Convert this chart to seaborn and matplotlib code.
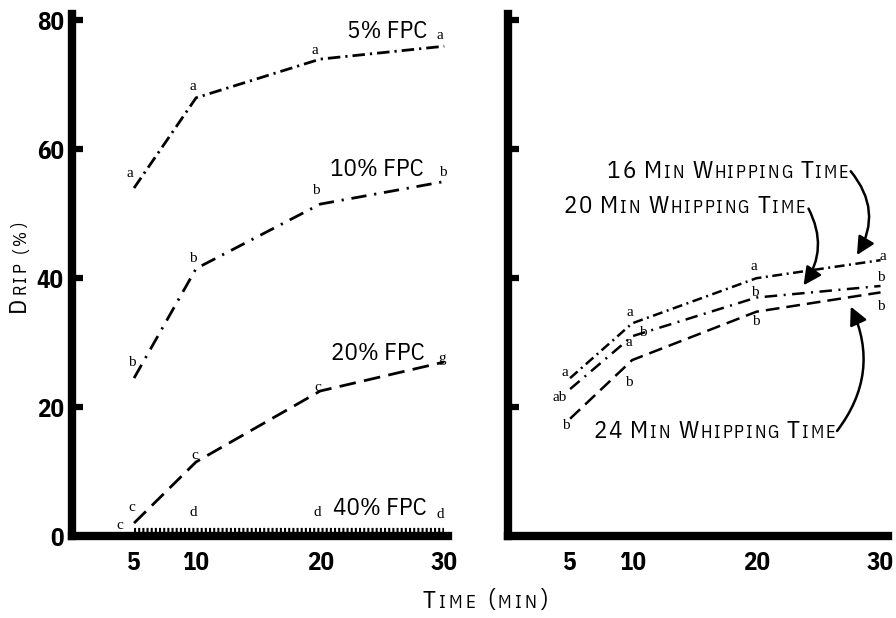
import matplotlib
matplotlib.use("Agg")
import matplotlib.pyplot as plt
from matplotlib import font_manager
from matplotlib.font_manager import FontProperties
from matplotlib.offsetbox import TextArea, HPacker, AnnotationBbox
import seaborn as sns
import pandas as pd

# ---- data -------------------------------------------------------------
time_min = [5, 10, 20, 30]

fpc_5 = [54.0, 68.0, 74.0, 76.0]
fpc_10 = [24.5, 41.5, 51.5, 55.0]
fpc_20 = [2.0, 11.5, 22.5, 27.0]
fpc_40 = [1.0, 1.0, 1.0, 1.0]

whip_16 = [24.5, 33.0, 40.0, 42.8]
whip_20 = [22.8, 31.0, 37.0, 38.8]
whip_24 = [18.2, 27.3, 34.8, 37.8]

fpc_names = ["5% FPC", "10% FPC", "20% FPC", "40% FPC"]
whip_names = ["16 Min Whipping Time", "20 Min Whipping Time", "24 Min Whipping Time"]

x_ticks = [5, 10, 20, 30]
y_ticks = [0, 20, 40, 60, 80]


# ---- fonts ------------------------------------------------------------
def have_font(name):
    try:
        font_manager.findfont(FontProperties(family=name), fallback_to_default=False)
        return True
    except Exception:
        return False


def first_font(names, default):
    for n in names:
        if have_font(n):
            return n
    return default


NARROW = first_font(["IBM Plex Sans Condensed", "Liberation Sans Narrow"], "DejaVu Sans")
SERIF = first_font(["Liberation Serif"], "DejaVu Serif")

sns.set_theme(style="white")
plt.rcParams["font.family"] = [NARROW, "DejaVu Sans"]
plt.rcParams["text.color"] = "black"
plt.rcParams["xtick.color"] = "black"
plt.rcParams["ytick.color"] = "black"

fig = plt.figure(figsize=(8.96, 6.18), dpi=100)
ax_l = fig.add_axes([72 / 896, 1 - 536 / 618, 376 / 896, 522 / 618])
ax_r = fig.add_axes([508 / 896, 1 - 536 / 618, 380 / 896, 522 / 618])

# ---- left panel: FPC concentration --------------------------------------
fpc_df = pd.DataFrame({"time": time_min * 4,
                       "drip": fpc_5 + fpc_10 + fpc_20 + fpc_40,
                       "series": sum([[n] * 4 for n in fpc_names], [])})
fpc_styles = {
    "5% FPC": dict(lw=2.0, linestyle=(0, (4.5, 1.8, 0.8, 1.8))),
    "10% FPC": dict(lw=2.0, linestyle=(0, (5.5, 2.8, 0.8, 2.8))),
    "20% FPC": dict(lw=2.0, linestyle=(0, (6.0, 3.0))),
    "40% FPC": dict(lw=3.0, linestyle=(0, (0.5, 0.5))),
}
for name in fpc_names:
    sub = fpc_df[fpc_df["series"] == name]
    sns.lineplot(data=sub, x="time", y="drip", ax=ax_l, color="black",
                 errorbar=None, legend=False, **fpc_styles[name])

# ---- right panel: whipping time ----------------------------------------
whip_df = pd.DataFrame({"time": time_min * 3,
                        "drip": whip_16 + whip_20 + whip_24,
                        "series": sum([[n] * 4 for n in whip_names], [])})
whip_styles = {
    whip_names[0]: dict(lw=1.8, linestyle=(0, (4.0, 1.8, 0.8, 1.8))),
    whip_names[1]: dict(lw=1.8, linestyle=(0, (5.0, 2.6, 0.8, 2.6))),
    whip_names[2]: dict(lw=1.8, linestyle=(0, (5.5, 2.8))),
}
for name in whip_names:
    sub = whip_df[whip_df["series"] == name]
    sns.lineplot(data=sub, x="time", y="drip", ax=ax_r, color="black",
                 errorbar=None, legend=False, **whip_styles[name])

# ---- axes styling -------------------------------------------------------
for ax in (ax_l, ax_r):
    ax.set_xlim(0, 30.3)
    ax.set_ylim(0, 81)
    ax.set_facecolor("white")
    for side in ("top", "right"):
        ax.spines[side].set_visible(False)
    for side in ("left", "bottom"):
        ax.spines[side].set_linewidth(6)
        ax.spines[side].set_color("black")
        ax.spines[side].set_capstyle("projecting")
    ax.set_xticks(x_ticks)
    ax.set_xticklabels([str(t) for t in x_ticks], fontsize=18, fontweight="bold",
                       family=NARROW)
    ax.tick_params(axis="x", length=0, pad=11)
    ax.tick_params(axis="y", direction="in", length=8, width=4.5, color="black", left=True)
    ax.set_xlabel("")
    ax.set_ylabel("")
    ax.grid(False)

ax_l.set_yticks(y_ticks)
ax_l.set_yticklabels([str(t) for t in y_ticks], fontsize=18, fontweight="bold", family=NARROW)
ax_l.tick_params(axis="y", pad=6)
ax_r.set_yticks(y_ticks)
ax_r.set_yticklabels([])
ax_r.set_xlim(0, 30.6)

# ---- series labels (left) -----------------------------------------------
fpc_label_pos = [(28.6, 78.3), (28.3, 56.8), (28.4, 28.3), (28.6, 4.3)]
for name, (lx, ly) in zip(fpc_names, fpc_label_pos):
    ax_l.text(lx, ly, name, ha="right", va="center", fontsize=18, family=NARROW)

serif_kw = dict(textcoords="offset pixels", ha="center", va="center",
                fontsize=11, family=SERIF, color="black")

fpc_letters = [
    (fpc_5, ["a", "a", "a", "a"], [(-4, 15), (-3, 11), (-5, 9), (-4, 11)]),
    (fpc_10, ["b", "b", "b", "b"], [(-2, 16), (-3, 10), (-4, 14), (-1, 9)]),
    (fpc_20, ["c", "c", "c", "g"], [(-2, 16), (-1, 6), (-2, 4), (-2, 4)]),
    (fpc_40, ["c", "d", "d", "d"], [(-14, 4), (-3, 17), (-3, 17), (-4, 15)]),
]
for vals, letters, offs in fpc_letters:
    for t, v, s, o in zip(time_min, vals, letters, offs):
        ax_l.annotate(s, xy=(t, v), xytext=o, **serif_kw)

whip_letters = [
    (whip_16, ["a", "a", "a", "a"], [(-5, 6), (-2, 11), (-2, 12), (2, 4)]),
    (whip_20, ["ab", "a", "b", "b"], [(-10, -8), (-3, -6), (-2, 5), (0, 8)]),
    (whip_24, ["b", "b", "b", "b"], [(-4, -7), (-3, -22), (-1, -10), (0, -14)]),
]
for vals, letters, offs in whip_letters:
    for t, v, s, o in zip(time_min, vals, letters, offs):
        ax_r.annotate(s, xy=(t, v), xytext=o, **serif_kw)
ax_r.annotate("b", xy=(time_min[1], whip_20[1]), xytext=(11, 4), **serif_kw)


# ---- letter-spaced small caps -------------------------------------------
def small_caps(parent, text, xy, xycoords, align, big=18, small=13,
               track=1.3, word_gap=6):
    words = []
    for w in text.split(" "):
        chars = [TextArea(ch.upper(),
                          textprops=dict(fontsize=small if ch.islower() else big,
                                         family=NARROW, color="black"))
                 for ch in w]
        words.append(HPacker(children=chars, align="baseline", pad=0, sep=track))
    box = HPacker(children=words, align="baseline", pad=0, sep=word_gap)
    ab = AnnotationBbox(box, xy, xycoords=xycoords, box_alignment=align,
                        frameon=False, pad=0, annotation_clip=False)
    parent.add_artist(ab)
    return ab


# whipping-time labels with curved pointers
whip_text_pos = [(27.4, 54.8), (23.9, 49.4), (26.3, 14.4)]
for name, pos in zip(whip_names, whip_text_pos):
    small_caps(ax_r, name, pos, "data", (1, 0))

arrows = [
    ((27.6, 56.6), (28.1, 43.6), -0.35),
    ((24.2, 50.8), (23.8, 38.9), -0.3),
    ((26.5, 16.3), (27.6, 35.6), 0.3),
]
for start, tip, rad in arrows:
    ax_r.annotate("", xy=tip, xytext=start,
                  arrowprops=dict(arrowstyle="-|>,head_length=0.9,head_width=0.45",
                                  connectionstyle=f"arc3,rad={rad}", lw=1.8,
                                  color="black", shrinkA=0, shrinkB=0))

# shared axis titles
small_caps(fig, "Time (min)", (485 / 896, 1 - 601 / 618), "figure fraction", (0.5, 0.5),
           big=18, small=13.5, track=2.4, word_gap=8)

# vertical "Drip (%)", built letter by letter from the bottom up
prev = fig.text(18 / 896, 1 - 312 / 618, "D", rotation=90, fontsize=18,
                family=NARROW, ha="center", va="bottom")
for ch in "RIP(%)":
    step = 1.8 + (5 if ch == "(" else 0)  # wider step stands in for the word space
    prev = ax_l.annotate(ch, xy=(1, 1), xycoords=prev, xytext=(0, step),
                         textcoords="offset points", rotation=90, ha="right",
                         va="bottom", fontsize=13, family=NARROW,
                         annotation_clip=False)

fig.savefig("out.png", dpi=100, facecolor="white")
